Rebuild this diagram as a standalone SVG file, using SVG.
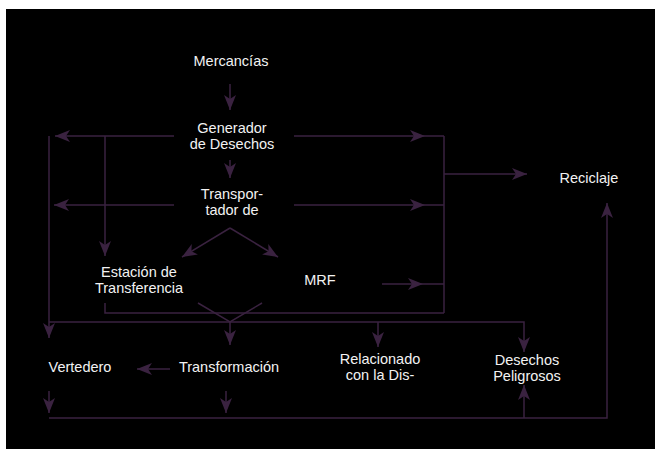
<svg xmlns="http://www.w3.org/2000/svg" width="655" height="449" viewBox="0 0 655 449">
<defs>
<style>
.t{font-family:"Liberation Sans",Arial,sans-serif;font-size:14.5px;fill:#f2f2f2;text-anchor:middle}
.c{fill:none;stroke:#3a2240;stroke-width:1.5}
.a{marker-end:url(#ah)}
</style>
<marker id="ah" viewBox="0 0 15 12" refX="15" refY="6" markerWidth="15" markerHeight="12" markerUnits="userSpaceOnUse" orient="auto">
<path d="M0,0 L15,6 L0,12 L4,6 Z" fill="#3a2240"/>
</marker>
</defs>
<rect x="0" y="0" width="655" height="449" fill="#ffffff"/>
<rect x="6" y="9" width="649" height="440" fill="#000000"/>
<g id="connectors">
<path class="c a" d="M230,84 V110"/>
<path class="c a" d="M230,160 V178"/>
<path class="c a" d="M174,136 H55"/>
<path class="c a" d="M294,136 H425"/>
<path class="c" d="M425,136 H444"/>
<path class="c a" d="M174,205 H54"/>
<path class="c a" d="M294,205 H425"/>
<path class="c" d="M425,205 H444"/>
<path class="c" d="M444,136 V313"/>
<path class="c a" d="M444,174 H527"/>
<path class="c a" d="M382,284 H423"/>
<path class="c" d="M423,284 H444"/>
<path class="c" d="M105,303 V313 H444"/>
<path class="c a" d="M105,136 V256"/>
<path class="c a" d="M49,136 V338"/>
<path class="c a" d="M49,322 H524 V352"/>
<path class="c" d="M198,303 L230,322 L262,303"/>
<path class="c a" d="M230,322 V345"/>
<path class="c a" d="M378,322 V347"/>
<path class="c a" d="M230,228 L182,257"/>
<path class="c a" d="M230,228 L278,257"/>
<path class="c a" d="M170,369 H137"/>
<path class="c a" d="M49,391 V413"/>
<path class="c a" d="M226,391 V413"/>
<path class="c a" d="M49,418 H607 V203"/>
<path class="c a" d="M524,418 V385"/>
</g>
<g id="mercancias"><text class="t" x="231" y="66">Mercancías</text></g>
<g id="generador"><text class="t" x="232" y="132.5">Generador</text><text class="t" x="232" y="148.5">de Desechos</text></g>
<g id="transportador"><text class="t" x="232" y="199">Transpor-</text><text class="t" x="232" y="215">tador de</text></g>
<g id="estacion"><text class="t" x="139" y="277">Estación de</text><text class="t" x="139" y="293">Transferencia</text></g>
<g id="mrf"><text class="t" x="320" y="285">MRF</text></g>
<g id="reciclaje"><text class="t" x="589" y="183">Reciclaje</text></g>
<g id="vertedero"><text class="t" x="80" y="372">Vertedero</text></g>
<g id="transformacion"><text class="t" x="229" y="372">Transformación</text></g>
<g id="relacionado"><text class="t" x="380" y="363.5">Relacionado</text><text class="t" x="380" y="379.5">con la Dis-</text></g>
<g id="peligrosos"><text class="t" x="527" y="364.5">Desechos</text><text class="t" x="527" y="380.5">Peligrosos</text></g>
</svg>
